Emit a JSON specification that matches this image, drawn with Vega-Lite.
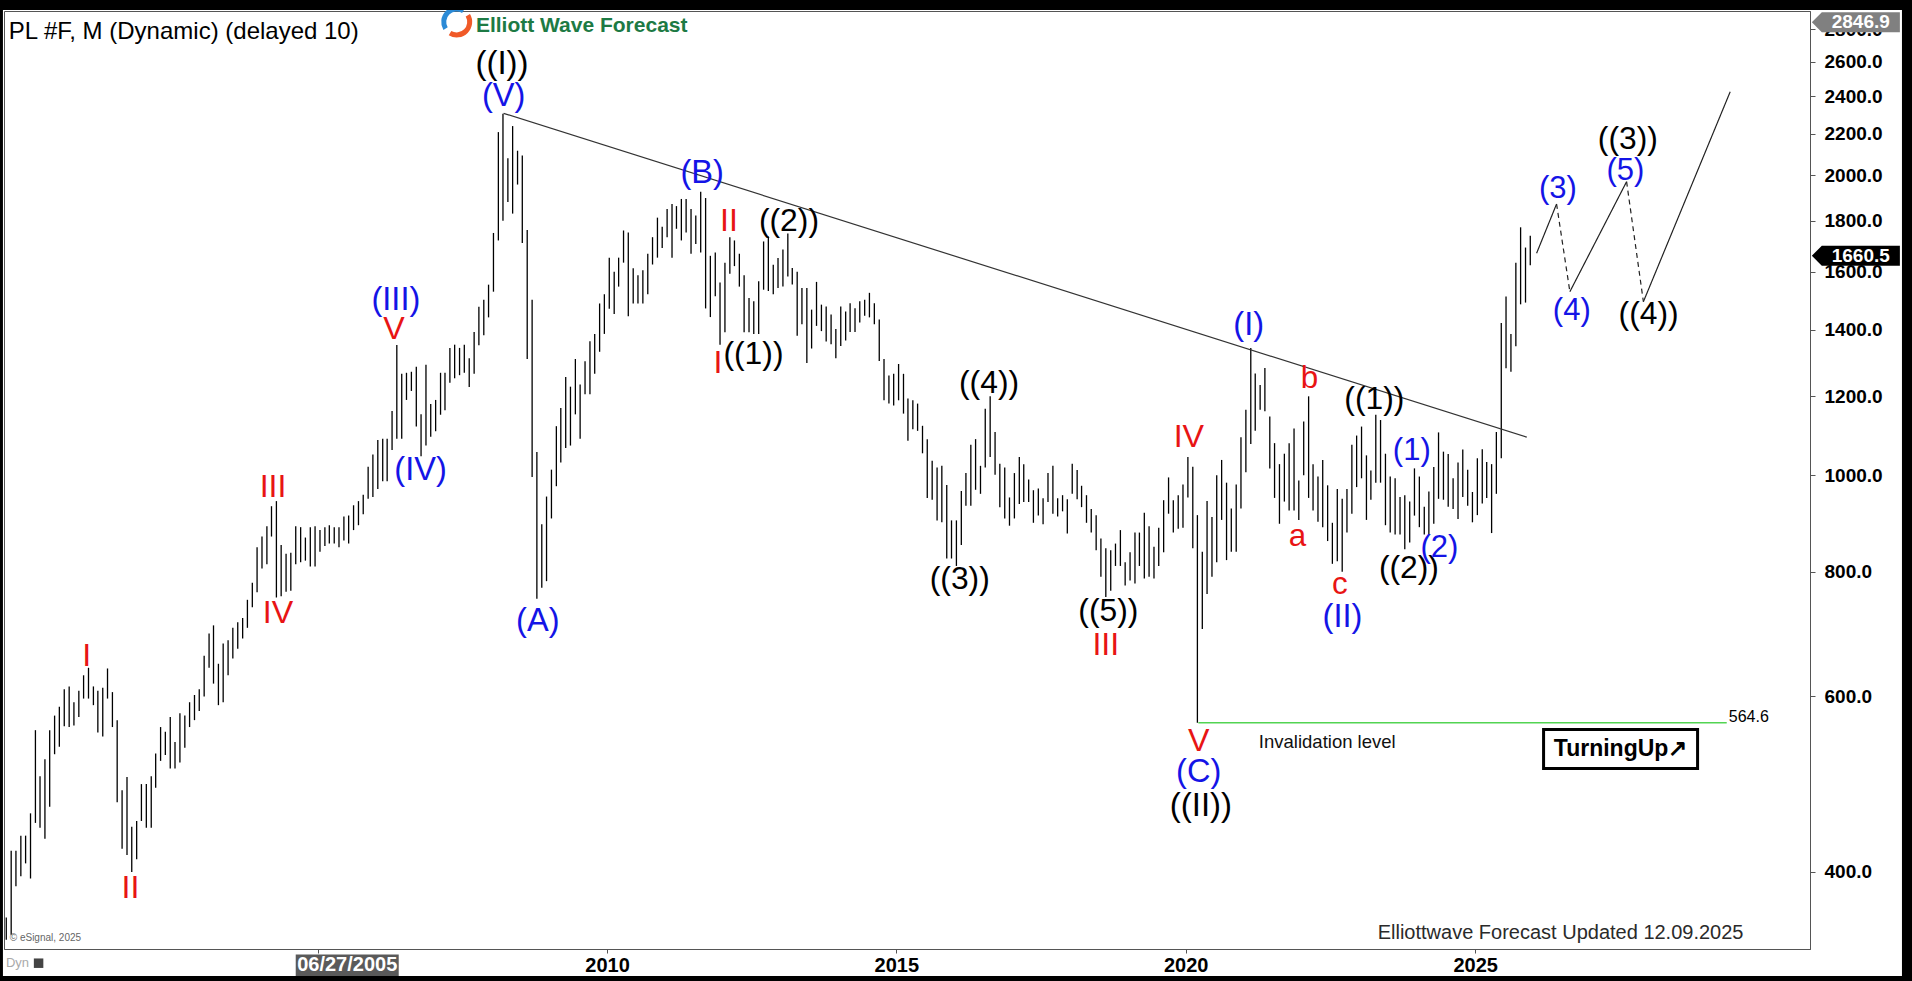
{
  "$schema": "https://vega.github.io/schema/vega-lite/v6.json",
  "width": 1806,
  "height": 938,
  "autosize": {"type": "none"},
  "padding": {"left": 4, "top": 11, "right": 102, "bottom": 32},
  "background": "white",
  "config": {"view": {"stroke": "#555555", "strokeWidth": 1}},
  "resolve": {"axis": {"x": "independent", "y": "independent"}},
  "datasets": {
    "bars": [
      {"d":"1999-08-15","h":360,"l":342},{"d":"1999-09-15","h":420,"l":346},{"d":"1999-10-15","h":420,"l":387},{"d":"1999-11-15","h":435,"l":396},{"d":"1999-12-15","h":435,"l":408},
      {"d":"2000-01-15","h":458,"l":394},{"d":"2000-02-15","h":555,"l":448},{"d":"2000-03-15","h":499,"l":443},{"d":"2000-04-15","h":519,"l":432},{"d":"2000-05-15","h":555,"l":465},{"d":"2000-06-15","h":574,"l":525},{"d":"2000-07-15","h":586,"l":534},{"d":"2000-08-15","h":610,"l":560},{"d":"2000-09-15","h":614,"l":559},{"d":"2000-10-15","h":592,"l":561},{"d":"2000-11-15","h":608,"l":572},{"d":"2000-12-15","h":630,"l":597},
      {"d":"2001-01-15","h":641,"l":597},{"d":"2001-02-15","h":614,"l":588},{"d":"2001-03-15","h":608,"l":552},{"d":"2001-04-15","h":612,"l":547},{"d":"2001-05-15","h":640,"l":597},{"d":"2001-06-15","h":606,"l":559},{"d":"2001-07-15","h":568,"l":470},{"d":"2001-08-15","h":483,"l":422},{"d":"2001-09-15","h":498,"l":416},{"d":"2001-10-15","h":444,"l":400},{"d":"2001-11-15","h":450,"l":412},{"d":"2001-12-15","h":490,"l":450},
      {"d":"2002-01-15","h":490,"l":443},{"d":"2002-02-15","h":499,"l":443},{"d":"2002-03-15","h":526,"l":486},{"d":"2002-04-15","h":559,"l":517},{"d":"2002-05-15","h":553,"l":524},{"d":"2002-06-15","h":572,"l":508},{"d":"2002-07-15","h":540,"l":508},{"d":"2002-08-15","h":577,"l":515},{"d":"2002-09-15","h":574,"l":533},{"d":"2002-10-15","h":592,"l":559},{"d":"2002-11-15","h":602,"l":568},{"d":"2002-12-15","h":610,"l":580},
      {"d":"2003-01-15","h":659,"l":600},{"d":"2003-02-15","h":694,"l":641},{"d":"2003-03-15","h":707,"l":618},{"d":"2003-04-15","h":647,"l":588},{"d":"2003-05-15","h":678,"l":592},{"d":"2003-06-15","h":683,"l":630},{"d":"2003-07-15","h":703,"l":655},{"d":"2003-08-15","h":712,"l":670},{"d":"2003-09-15","h":719,"l":686},{"d":"2003-10-15","h":750,"l":703},{"d":"2003-11-15","h":780,"l":737},{"d":"2003-12-15","h":847,"l":763},
      {"d":"2004-01-15","h":868,"l":806},{"d":"2004-02-15","h":889,"l":814},{"d":"2004-03-15","h":931,"l":868},{"d":"2004-04-15","h":942,"l":754},{"d":"2004-05-15","h":851,"l":756},{"d":"2004-06-15","h":834,"l":764},{"d":"2004-07-15","h":836,"l":766},{"d":"2004-08-15","h":889,"l":814},{"d":"2004-09-15","h":887,"l":818},{"d":"2004-10-15","h":866,"l":821},{"d":"2004-11-15","h":887,"l":810},{"d":"2004-12-15","h":889,"l":810},
      {"d":"2005-01-15","h":881,"l":838},{"d":"2005-02-15","h":887,"l":849},{"d":"2005-03-15","h":891,"l":854},{"d":"2005-04-15","h":887,"l":854},{"d":"2005-05-15","h":887,"l":847},{"d":"2005-06-15","h":909,"l":860},{"d":"2005-07-15","h":911,"l":854},{"d":"2005-08-15","h":933,"l":881},{"d":"2005-09-15","h":942,"l":891},{"d":"2005-10-15","h":956,"l":914},{"d":"2005-11-15","h":1020,"l":947},{"d":"2005-12-15","h":1049,"l":951},
      {"d":"2006-01-15","h":1085,"l":969},{"d":"2006-02-15","h":1088,"l":986},{"d":"2006-03-15","h":1088,"l":986},{"d":"2006-04-15","h":1160,"l":1060},{"d":"2006-05-15","h":1351,"l":1088},{"d":"2006-06-15","h":1264,"l":1088},{"d":"2006-07-15","h":1267,"l":1190},{"d":"2006-08-15","h":1270,"l":1215},{"d":"2006-09-15","h":1285,"l":1119},{"d":"2006-10-15","h":1151,"l":1045},{"d":"2006-11-15","h":1291,"l":1071},{"d":"2006-12-15","h":1179,"l":1093},
      {"d":"2007-01-15","h":1190,"l":1107},{"d":"2007-02-15","h":1267,"l":1150},{"d":"2007-03-15","h":1267,"l":1162},{"d":"2007-04-15","h":1342,"l":1238},{"d":"2007-05-15","h":1352,"l":1251},{"d":"2007-06-15","h":1342,"l":1260},{"d":"2007-07-15","h":1352,"l":1267},{"d":"2007-08-15","h":1310,"l":1226},{"d":"2007-09-15","h":1392,"l":1264},{"d":"2007-10-15","h":1476,"l":1350},{"d":"2007-11-15","h":1500,"l":1382},{"d":"2007-12-15","h":1553,"l":1440},
      {"d":"2008-01-15","h":1750,"l":1528},{"d":"2008-02-15","h":2209,"l":1720},{"d":"2008-03-15","h":2305,"l":1800},{"d":"2008-04-15","h":2080,"l":1880},{"d":"2008-05-15","h":2240,"l":1830},{"d":"2008-06-15","h":2116,"l":1957},{"d":"2008-07-15","h":2093,"l":1710},{"d":"2008-08-15","h":1762,"l":1308},{"d":"2008-09-15","h":1500,"l":996},{"d":"2008-10-15","h":1055,"l":752},{"d":"2008-11-15","h":893,"l":771},{"d":"2008-12-15","h":952,"l":783},
      {"d":"2009-01-15","h":1013,"l":905},{"d":"2009-02-15","h":1120,"l":975},{"d":"2009-03-15","h":1168,"l":1030},{"d":"2009-04-15","h":1255,"l":1065},{"d":"2009-05-15","h":1227,"l":1071},{"d":"2009-06-15","h":1308,"l":1151},{"d":"2009-07-15","h":1233,"l":1088},{"d":"2009-08-15","h":1301,"l":1206},{"d":"2009-09-15","h":1363,"l":1206},{"d":"2009-10-15","h":1386,"l":1264},{"d":"2009-11-15","h":1487,"l":1330},{"d":"2009-12-15","h":1519,"l":1386},
      {"d":"2010-01-15","h":1653,"l":1469},{"d":"2010-02-15","h":1600,"l":1451},{"d":"2010-03-15","h":1653,"l":1546},{"d":"2010-04-15","h":1760,"l":1634},{"d":"2010-05-15","h":1752,"l":1444},{"d":"2010-06-15","h":1613,"l":1487},{"d":"2010-07-15","h":1587,"l":1487},{"d":"2010-08-15","h":1606,"l":1487},{"d":"2010-09-15","h":1668,"l":1519},{"d":"2010-10-15","h":1733,"l":1627},{"d":"2010-11-15","h":1813,"l":1653},{"d":"2010-12-15","h":1775,"l":1690},
      {"d":"2011-01-15","h":1850,"l":1733},{"d":"2011-02-15","h":1871,"l":1653},{"d":"2011-03-15","h":1862,"l":1767},{"d":"2011-04-15","h":1893,"l":1720},{"d":"2011-05-15","h":1893,"l":1752},{"d":"2011-06-15","h":1850,"l":1668},{"d":"2011-07-15","h":1822,"l":1706},{"d":"2011-08-15","h":1925,"l":1673},{"d":"2011-09-15","h":1897,"l":1470},{"d":"2011-10-15","h":1660,"l":1441},{"d":"2011-11-15","h":1673,"l":1512},{"d":"2011-12-15","h":1561,"l":1352},
      {"d":"2012-01-15","h":1634,"l":1391},{"d":"2012-02-15","h":1733,"l":1593},{"d":"2012-03-15","h":1720,"l":1621},{"d":"2012-04-15","h":1668,"l":1546},{"d":"2012-05-15","h":1587,"l":1391},{"d":"2012-06-15","h":1506,"l":1391},{"d":"2012-07-15","h":1495,"l":1386},{"d":"2012-08-15","h":1565,"l":1386},{"d":"2012-09-15","h":1716,"l":1535},{"d":"2012-10-15","h":1736,"l":1530},{"d":"2012-11-15","h":1626,"l":1519},{"d":"2012-12-15","h":1652,"l":1541},
      {"d":"2013-01-15","h":1684,"l":1546},{"d":"2013-02-15","h":1748,"l":1583},{"d":"2013-03-15","h":1614,"l":1554},{"d":"2013-04-15","h":1600,"l":1380},{"d":"2013-05-15","h":1541,"l":1417},{"d":"2013-06-15","h":1541,"l":1296},{"d":"2013-07-15","h":1466,"l":1340},{"d":"2013-08-15","h":1563,"l":1412},{"d":"2013-09-15","h":1483,"l":1395},{"d":"2013-10-15","h":1477,"l":1362},{"d":"2013-11-15","h":1450,"l":1353},{"d":"2013-12-15","h":1402,"l":1310},
      {"d":"2014-01-15","h":1477,"l":1348},{"d":"2014-02-15","h":1460,"l":1365},{"d":"2014-03-15","h":1488,"l":1392},{"d":"2014-04-15","h":1471,"l":1392},{"d":"2014-05-15","h":1495,"l":1423},{"d":"2014-06-15","h":1500,"l":1445},{"d":"2014-07-15","h":1524,"l":1440},{"d":"2014-08-15","h":1488,"l":1417},{"d":"2014-09-15","h":1433,"l":1302},{"d":"2014-10-15","h":1308,"l":1189},{"d":"2014-11-15","h":1259,"l":1180},{"d":"2014-12-15","h":1264,"l":1175},
      {"d":"2015-01-15","h":1293,"l":1189},{"d":"2015-02-15","h":1264,"l":1153},{"d":"2015-03-15","h":1194,"l":1083},{"d":"2015-04-15","h":1189,"l":1112},{"d":"2015-05-15","h":1180,"l":1108},{"d":"2015-06-15","h":1121,"l":1052},{"d":"2015-07-15","h":1087,"l":949},{"d":"2015-08-15","h":1034,"l":945},{"d":"2015-09-15","h":1018,"l":901},{"d":"2015-10-15","h":1022,"l":897},{"d":"2015-11-15","h":978,"l":825},{"d":"2015-12-15","h":901,"l":825},
      {"d":"2016-01-15","h":901,"l":811},{"d":"2016-02-15","h":964,"l":851},{"d":"2016-03-15","h":1005,"l":932},{"d":"2016-04-15","h":1073,"l":932},{"d":"2016-05-15","h":1087,"l":967},{"d":"2016-06-15","h":1022,"l":958},{"d":"2016-07-15","h":1166,"l":1018},{"d":"2016-08-15","h":1200,"l":1043},{"d":"2016-09-15","h":1105,"l":1001},{"d":"2016-10-15","h":1027,"l":929},{"d":"2016-11-15","h":1018,"l":905},{"d":"2016-12-15","h":950,"l":890},
      {"d":"2017-01-15","h":1005,"l":905},{"d":"2017-02-15","h":1043,"l":936},{"d":"2017-03-15","h":1026,"l":940},{"d":"2017-04-15","h":990,"l":940},{"d":"2017-05-15","h":966,"l":896},{"d":"2017-06-15","h":970,"l":911},{"d":"2017-07-15","h":948,"l":893},{"d":"2017-08-15","h":1005,"l":940},{"d":"2017-09-15","h":1022,"l":915},{"d":"2017-10-15","h":948,"l":909},{"d":"2017-11-15","h":955,"l":920},{"d":"2017-12-15","h":946,"l":874},
      {"d":"2018-01-15","h":1027,"l":958},{"d":"2018-02-15","h":1012,"l":946},{"d":"2018-03-15","h":976,"l":929},{"d":"2018-04-15","h":955,"l":896},{"d":"2018-05-15","h":925,"l":876},{"d":"2018-06-15","h":912,"l":841},{"d":"2018-07-15","h":864,"l":791},{"d":"2018-08-15","h":845,"l":755},{"d":"2018-09-15","h":841,"l":766},{"d":"2018-10-15","h":854,"l":811},{"d":"2018-11-15","h":881,"l":811},{"d":"2018-12-15","h":818,"l":775},
      {"d":"2019-01-15","h":837,"l":784},{"d":"2019-02-15","h":876,"l":779},{"d":"2019-03-15","h":876,"l":811},{"d":"2019-04-15","h":917,"l":788},{"d":"2019-05-15","h":889,"l":791},{"d":"2019-06-15","h":848,"l":788},{"d":"2019-07-15","h":886,"l":811},{"d":"2019-08-15","h":944,"l":837},{"d":"2019-09-15","h":995,"l":915},{"d":"2019-10-15","h":944,"l":876},{"d":"2019-11-15","h":955,"l":884},{"d":"2019-12-15","h":979,"l":886},
      {"d":"2020-01-15","h":1043,"l":950},{"d":"2020-02-15","h":1020,"l":845},{"d":"2020-03-15","h":912,"l":564.6},{"d":"2020-04-15","h":838,"l":701},{"d":"2020-05-15","h":942,"l":760},{"d":"2020-06-15","h":908,"l":791},{"d":"2020-07-15","h":1000,"l":818},{"d":"2020-08-15","h":1036,"l":902},{"d":"2020-09-15","h":983,"l":822},{"d":"2020-10-15","h":926,"l":838},{"d":"2020-11-15","h":979,"l":838},{"d":"2020-12-15","h":1092,"l":926},
      {"d":"2021-01-15","h":1163,"l":1007},{"d":"2021-02-15","h":1342,"l":1075},{"d":"2021-03-15","h":1265,"l":1108},{"d":"2021-04-15","h":1232,"l":1163},{"d":"2021-05-15","h":1281,"l":1159},{"d":"2021-06-15","h":1145,"l":1016},{"d":"2021-07-15","h":1077,"l":949},{"d":"2021-08-15","h":1026,"l":894},{"d":"2021-09-15","h":1051,"l":941},{"d":"2021-10-15","h":1077,"l":922},{"d":"2021-11-15","h":1114,"l":922},{"d":"2021-12-15","h":988,"l":902},
      {"d":"2022-01-15","h":1132,"l":1000},{"d":"2022-02-15","h":1200,"l":949},{"d":"2022-03-15","h":1026,"l":922},{"d":"2022-04-15","h":997,"l":898},{"d":"2022-05-15","h":1036,"l":887},{"d":"2022-06-15","h":977,"l":859},{"d":"2022-07-15","h":896,"l":815},{"d":"2022-08-15","h":969,"l":820},{"d":"2022-09-15","h":947,"l":800},{"d":"2022-10-15","h":969,"l":876},{"d":"2022-11-15","h":1073,"l":915},{"d":"2022-12-15","h":1096,"l":973},
      {"d":"2023-01-15","h":1119,"l":993},{"d":"2023-02-15","h":1047,"l":902},{"d":"2023-03-15","h":1011,"l":945},{"d":"2023-04-15","h":1150,"l":983},{"d":"2023-05-15","h":1136,"l":983},{"d":"2023-06-15","h":1051,"l":891},{"d":"2023-07-15","h":997,"l":876},{"d":"2023-08-15","h":993,"l":872},{"d":"2023-09-15","h":951,"l":872},{"d":"2023-10-15","h":955,"l":843},{"d":"2023-11-15","h":941,"l":856},{"d":"2023-12-15","h":1016,"l":911},
      {"d":"2024-01-15","h":997,"l":887},{"d":"2024-02-15","h":930,"l":872},{"d":"2024-03-15","h":963,"l":872},{"d":"2024-04-15","h":1019,"l":894},{"d":"2024-05-15","h":1104,"l":947},{"d":"2024-06-15","h":1056,"l":945},{"d":"2024-07-15","h":1050,"l":930},{"d":"2024-08-15","h":993,"l":925},{"d":"2024-09-15","h":1030,"l":904},{"d":"2024-10-15","h":1061,"l":951},{"d":"2024-11-15","h":1013,"l":932},{"d":"2024-12-15","h":962,"l":897},
      {"d":"2025-01-15","h":1040,"l":912},{"d":"2025-02-15","h":1062,"l":937},{"d":"2025-03-15","h":1031,"l":949},{"d":"2025-04-15","h":1026,"l":875},{"d":"2025-05-15","h":1105,"l":958},{"d":"2025-06-15","h":1421,"l":1040},{"d":"2025-07-15","h":1511,"l":1280},{"d":"2025-08-15","h":1386,"l":1270},{"d":"2025-09-15","h":1634,"l":1347},{"d":"2025-10-15","h":1773,"l":1484},{"d":"2025-11-15","h":1692,"l":1490},{"d":"2025-12-15","h":1739,"l":1624}
    ],
    "labels": [
      {"d":"2008-03-09","v":2588,"t":"((I))","deg":"cycle"},
      {"d":"2008-03-19","v":2399,"t":"(V)","deg":"primary"},
      {"d":"2006-05-09","v":1499,"t":"(III)","deg":"primary"},
      {"d":"2006-04-27","v":1402,"t":"V","deg":"intermediate"},
      {"d":"2006-10-12","v":1013,"t":"(IV)","deg":"primary"},
      {"d":"2004-03-25","v":974,"t":"III","deg":"intermediate"},
      {"d":"2004-04-25","v":727.5,"t":"IV","deg":"intermediate"},
      {"d":"2001-01-03","v":658.6,"t":"I","deg":"intermediate"},
      {"d":"2001-10-07","v":385.8,"t":"II","deg":"intermediate"},
      {"d":"2008-10-21","v":714.8,"t":"(A)","deg":"primary"},
      {"d":"2011-08-24","v":2009.6,"t":"(B)","deg":"primary"},
      {"d":"2012-02-09","v":1800,"t":"II","deg":"intermediate"},
      {"d":"2011-12-02","v":1295,"t":"I","deg":"intermediate"},
      {"d":"2012-07-13","v":1324,"t":"((1))","deg":"minor"},
      {"d":"2013-02-22","v":1800,"t":"((2))","deg":"minor"},
      {"d":"2016-08-08","v":1237.6,"t":"((4))","deg":"minor"},
      {"d":"2016-02-05","v":786.6,"t":"((3))","deg":"minor"},
      {"d":"2018-08-31","v":730.8,"t":"((5))","deg":"minor"},
      {"d":"2018-08-15","v":675.6,"t":"III","deg":"intermediate"},
      {"d":"2020-01-21","v":1093.6,"t":"IV","deg":"intermediate"},
      {"d":"2020-03-23","v":540.8,"t":"V","deg":"intermediate"},
      {"d":"2020-03-23","v":503.8,"t":"(C)","deg":"primary"},
      {"d":"2020-04-06","v":465.9,"t":"((II))","deg":"cycle"},
      {"d":"2021-02-02","v":1416,"t":"(I)","deg":"primary"},
      {"d":"2022-02-21","v":1248.8,"t":"b","deg":"minute"},
      {"d":"2021-12-07","v":868,"t":"a","deg":"minute"},
      {"d":"2022-08-31","v":776,"t":"c","deg":"minute"},
      {"d":"2022-09-17","v":721,"t":"(II)","deg":"primary"},
      {"d":"2023-04-06","v":1193.6,"t":"((1))","deg":"minor"},
      {"d":"2023-11-28","v":1057,"t":"(1)","deg":"minuette"},
      {"d":"2023-11-10","v":808,"t":"((2))","deg":"minor"},
      {"d":"2024-05-20","v":846,"t":"(2)","deg":"minuette"},
      {"d":"2026-06-07","v":1937,"t":"(3)","deg":"minuette"},
      {"d":"2026-09-03","v":1461,"t":"(4)","deg":"minuette"},
      {"d":"2027-08-23","v":2175,"t":"((3))","deg":"minor"},
      {"d":"2027-08-07","v":2020,"t":"(5)","deg":"minuette"},
      {"d":"2028-01-01","v":1450,"t":"((4))","deg":"minor"}
    ],
    "proj": [
      {"seg":"a","style":"solid","d":"2026-01-24","v":1670},{"seg":"a","style":"solid","d":"2026-05-30","v":1871},
      {"seg":"b","style":"dashed","d":"2026-05-30","v":1871},{"seg":"b","style":"dashed","d":"2026-08-22","v":1528},
      {"seg":"c","style":"solid","d":"2026-08-22","v":1528},{"seg":"c","style":"solid","d":"2027-08-15","v":1970},
      {"seg":"d","style":"dashed","d":"2027-08-15","v":1970},{"seg":"d","style":"dashed","d":"2027-11-29","v":1493},
      {"seg":"e","style":"solid","d":"2027-11-29","v":1493},{"seg":"e","style":"solid","d":"2029-05-30","v":2425}
    ],
    "trend": [{"d":"2008-03-19","v":2307},{"d":"2025-11-23","v":1092}],
    "inval": [{"d":"2020-03-21","v":564.6},{"d":"2029-05-08","v":564.6}]
  },
  "layer": [
    {
      "data": {"name": "bars"},
      "mark": {"type": "rule", "color": "#000000", "strokeWidth": 1.3},
      "encoding": {
        "x": {"field": "d", "type": "temporal",
          "scale": {"type": "utc", "nice": false, "domain": [{"year":1999,"month":7,"date":31,"hours":16,"utc":true},{"year":2030,"month":10,"date":15,"hours":14,"utc":true}]},
          "axis": {"title": null, "orient": "bottom", "grid": false,
            "values": [{"year":2005,"month":1,"date":1,"utc":true},{"year":2010,"month":1,"date":1,"utc":true},{"year":2015,"month":1,"date":1,"utc":true},{"year":2020,"month":1,"date":1,"utc":true},{"year":2025,"month":1,"date":1,"utc":true}],
            "labelExpr": "utcFormat(datum.value, '%Y') == '2005' ? '' : utcFormat(datum.value, '%Y')",
            "labelFont": "Liberation Sans", "labelFontWeight": "bold", "labelFontSize": 20, "labelColor": "#000000",
            "labelPadding": 2, "tickSize": 4, "tickColor": "#555555", "domainColor": "#555555", "labelFlush": false, "labelOverlap": false}},
        "y": {"field": "l", "type": "quantitative",
          "scale": {"type": "log", "domain": [334.8, 2922], "nice": false, "zero": false},
          "axis": {"title": null, "orient": "right", "grid": false,
            "values": [400, 600, 800, 1000, 1200, 1400, 1600, 1800, 2000, 2200, 2400, 2600, 2800],
            "format": ".1f", "labelFont": "Liberation Sans", "labelFontWeight": "bold", "labelFontSize": 19, "labelColor": "#000000",
            "labelPadding": 9, "tickSize": 5, "tickColor": "#555555", "domainColor": "#555555", "labelBaseline": "middle", "labelOverlap": false}},
        "y2": {"field": "h"}
      }
    },
    {
      "data": {"name": "trend"},
      "mark": {"type": "line", "color": "#333333", "strokeWidth": 1.2},
      "encoding": {
        "x": {"field": "d", "type": "temporal", "axis": null},
        "y": {"field": "v", "type": "quantitative", "axis": null}
      }
    },
    {
      "data": {"name": "inval"},
      "mark": {"type": "line", "color": "#52d452", "strokeWidth": 1.6},
      "encoding": {
        "x": {"field": "d", "type": "temporal", "axis": null},
        "y": {"field": "v", "type": "quantitative", "axis": null}
      }
    },
    {
      "data": {"name": "proj"},
      "mark": {"type": "line", "color": "#222222", "strokeWidth": 1.2},
      "encoding": {
        "x": {"field": "d", "type": "temporal", "axis": null},
        "y": {"field": "v", "type": "quantitative", "axis": null},
        "detail": {"field": "seg"},
        "strokeDash": {"field": "style", "type": "nominal", "scale": {"domain": ["solid", "dashed"], "range": [[1, 0], [5, 4]]}, "legend": null}
      }
    },
    {
      "data": {"name": "labels"},
      "mark": {"type": "text", "font": "Liberation Sans", "align": "center", "baseline": "middle"},
      "encoding": {
        "x": {"field": "d", "type": "temporal", "axis": null},
        "y": {"field": "v", "type": "quantitative", "axis": null},
        "text": {"field": "t"},
        "color": {"field": "deg", "type": "nominal", "legend": null,
          "scale": {"domain": ["cycle", "primary", "intermediate", "minor", "minute", "minuette"], "range": ["#000000", "#1414e6", "#e81414", "#000000", "#e81414", "#1414e6"]}},
        "size": {"field": "deg", "type": "ordinal", "legend": null,
          "scale": {"domain": ["cycle", "primary", "intermediate", "minor", "minute", "minuette"], "range": [33, 31, 31, 21.5, 30, 20.5]}}
      }
    },
    {
      "data": {"values": [{}]},
      "mark": {"type": "text", "font": "Liberation Sans", "fontSize": 18.5, "align": "left", "baseline": "middle", "color": "#111111", "text": "Invalidation level"},
      "encoding": {
        "x": {"datum": {"year":2021,"month":4,"date":7,"utc":true}, "type": "temporal", "axis": null},
        "y": {"datum": 540, "type": "quantitative", "axis": null}
      }
    },
    {
      "data": {"values": [{}]},
      "mark": {"type": "text", "font": "Liberation Sans", "fontSize": 16, "align": "left", "baseline": "middle", "color": "#000000", "text": "564.6"},
      "encoding": {
        "x": {"datum": {"year":2029,"month":5,"date":21,"utc":true}, "type": "temporal", "axis": null},
        "y": {"datum": 572, "type": "quantitative", "axis": null}
      }
    },
    {
      "data": {"values": [{}]},
      "mark": {"type": "point", "shape": "M-1,-0.2532L1,-0.2532L1,0.2532L-1,0.2532Z", "size": 23716, "filled": true, "fill": "#ffffff", "stroke": "#000000", "strokeWidth": 3, "opacity": 1},
      "encoding": {
        "x": {"datum": {"year":2027,"month":7,"date":8,"utc":true}, "type": "temporal", "axis": null},
        "y": {"datum": 531.4, "type": "quantitative", "axis": null}
      }
    },
    {
      "data": {"values": [{}]},
      "mark": {"type": "text", "font": "Liberation Sans", "fontSize": 23, "fontWeight": "bold", "align": "center", "baseline": "middle", "color": "#000000", "text": "TurningUp↗"},
      "encoding": {
        "x": {"datum": {"year":2027,"month":7,"date":8,"utc":true}, "type": "temporal", "axis": null},
        "y": {"datum": 531.4, "type": "quantitative", "axis": null}
      }
    },
    {
      "data": {"values": [{}]},
      "mark": {"type": "text", "font": "Liberation Sans", "fontSize": 24, "align": "left", "baseline": "alphabetic", "color": "#000000", "text": "PL #F, M (Dynamic) (delayed 10)"},
      "encoding": {
        "x": {"datum": {"year":1999,"month":8,"date":31,"utc":true}, "type": "temporal", "axis": null},
        "y": {"datum": 2742, "type": "quantitative", "axis": null}
      }
    },
    {
      "data": {"values": [{}]},
      "mark": {"type": "text", "font": "Liberation Sans", "fontSize": 21, "fontWeight": "bold", "align": "left", "baseline": "alphabetic", "color": "#1d7a44", "text": "Elliott Wave Forecast"},
      "encoding": {
        "x": {"datum": {"year":2007,"month":9,"date":26,"utc":true}, "type": "temporal", "axis": null},
        "y": {"datum": 2783, "type": "quantitative", "axis": null}
      }
    },
    {
      "data": {"values": [{}]},
      "mark": {"type": "point", "shape": "M -0.75 0.45 A 0.875 0.875 0 0 1 0.45 -0.75", "size": 883, "filled": false, "stroke": "#2b8ad6", "strokeWidth": 5, "opacity": 1},
      "encoding": {
        "x": {"datum": {"year":2007,"month":5,"date":28,"utc":true}, "type": "temporal", "axis": null},
        "y": {"datum": 2849, "type": "quantitative", "axis": null}
      }
    },
    {
      "data": {"values": [{}]},
      "mark": {"type": "point", "shape": "M 0.75 -0.45 A 0.875 0.875 0 0 1 -0.45 0.75", "size": 883, "filled": false, "stroke": "#f05a28", "strokeWidth": 5, "opacity": 1},
      "encoding": {
        "x": {"datum": {"year":2007,"month":5,"date":28,"utc":true}, "type": "temporal", "axis": null},
        "y": {"datum": 2849, "type": "quantitative", "axis": null}
      }
    },
    {
      "data": {"values": [{}]},
      "mark": {"type": "text", "font": "Liberation Sans", "fontSize": 10, "align": "left", "baseline": "middle", "color": "#666666", "text": "© eSignal, 2025"},
      "encoding": {
        "x": {"datum": {"year":1999,"month":9,"date":6,"utc":true}, "type": "temporal", "axis": null},
        "y": {"datum": 343.5, "type": "quantitative", "axis": null}
      }
    },
    {
      "data": {"values": [{}]},
      "mark": {"type": "text", "font": "Liberation Sans", "fontSize": 20, "align": "left", "baseline": "middle", "color": "#2a2a2a", "text": "Elliottwave Forecast Updated 12.09.2025"},
      "encoding": {
        "x": {"datum": {"year":2023,"month":4,"date":27,"utc":true}, "type": "temporal", "axis": null},
        "y": {"datum": 347.5, "type": "quantitative", "axis": null}
      }
    },
    {
      "data": {"values": [{}]},
      "mark": {"type": "text", "font": "Liberation Sans", "fontSize": 13, "align": "left", "baseline": "middle", "color": "#aaaaaa", "text": "Dyn"},
      "encoding": {
        "x": {"datum": {"year":1999,"month":8,"date":13,"utc":true}, "type": "temporal", "axis": null},
        "y": {"datum": 324, "type": "quantitative", "axis": null}
      }
    },
    {
      "data": {"values": [{}]},
      "mark": {"type": "point", "shape": "square", "size": 90, "filled": true, "color": "#444444", "opacity": 1},
      "encoding": {
        "x": {"datum": {"year":2000,"month":3,"date":6,"utc":true}, "type": "temporal", "axis": null},
        "y": {"datum": 324, "type": "quantitative", "axis": null}
      }
    },
    {
      "data": {"values": [{}]},
      "mark": {"type": "point", "shape": "M-1,-0.2136L1,-0.2136L1,0.2136L-1,0.2136Z", "size": 10609, "filled": true, "color": "#5a5a5a", "opacity": 1},
      "encoding": {
        "x": {"datum": {"year":2005,"month":7,"date":6,"utc":true}, "type": "temporal", "axis": null},
        "y": {"datum": 322.3, "type": "quantitative", "axis": null}
      }
    },
    {
      "data": {"values": [{}]},
      "mark": {"type": "text", "font": "Liberation Sans", "fontSize": 20, "fontWeight": "bold", "align": "center", "baseline": "middle", "color": "#ffffff", "text": "06/27/2005"},
      "encoding": {
        "x": {"datum": {"year":2005,"month":7,"date":6,"utc":true}, "type": "temporal", "axis": null},
        "y": {"datum": 322.3, "type": "quantitative", "axis": null}
      }
    },
    {
      "data": {"values": [{}]},
      "mark": {"type": "point", "shape": "M-1,0L-0.773,-0.227L1,-0.227L1,0.227L-0.773,0.227Z", "size": 7744, "filled": true, "color": "#808080", "opacity": 1},
      "encoding": {
        "x": {"datum": {"year":2031,"month":8,"date":1,"utc":true}, "type": "temporal", "axis": null},
        "y": {"datum": 2846.9, "type": "quantitative", "axis": null}
      }
    },
    {
      "data": {"values": [{}]},
      "mark": {"type": "text", "font": "Liberation Sans", "fontSize": 19, "fontWeight": "bold", "align": "center", "baseline": "middle", "color": "#ffffff", "text": "2846.9"},
      "encoding": {
        "x": {"datum": {"year":2031,"month":9,"date":1,"utc":true}, "type": "temporal", "axis": null},
        "y": {"datum": 2846.9, "type": "quantitative", "axis": null}
      }
    },
    {
      "data": {"values": [{}]},
      "mark": {"type": "point", "shape": "M-1,0L-0.773,-0.227L1,-0.227L1,0.227L-0.773,0.227Z", "size": 7744, "filled": true, "color": "#000000", "opacity": 1},
      "encoding": {
        "x": {"datum": {"year":2031,"month":8,"date":1,"utc":true}, "type": "temporal", "axis": null},
        "y": {"datum": 1660.5, "type": "quantitative", "axis": null}
      }
    },
    {
      "data": {"values": [{}]},
      "mark": {"type": "text", "font": "Liberation Sans", "fontSize": 19, "fontWeight": "bold", "align": "center", "baseline": "middle", "color": "#ffffff", "text": "1660.5"},
      "encoding": {
        "x": {"datum": {"year":2031,"month":9,"date":1,"utc":true}, "type": "temporal", "axis": null},
        "y": {"datum": 1660.5, "type": "quantitative", "axis": null}
      }
    },
    {
      "data": {"values": [{}]},
      "mark": {"type": "rect", "color": "#000000", "opacity": 1},
      "encoding": {
        "x": {"datum": {"year":1998,"month":1,"date":1,"utc":true}, "type": "temporal", "axis": null},
        "x2": {"datum": {"year":2034,"month":1,"date":1,"utc":true}},
        "y": {"datum": 2928.7, "type": "quantitative", "axis": null},
        "y2": {"datum": 5000}
      }
    },
    {
      "data": {"values": [{}]},
      "mark": {"type": "rect", "color": "#000000", "opacity": 1},
      "encoding": {
        "x": {"datum": {"year":1998,"month":1,"date":1,"utc":true}, "type": "temporal", "axis": null},
        "x2": {"datum": {"year":2034,"month":1,"date":1,"utc":true}},
        "y": {"datum": 200, "type": "quantitative", "axis": null},
        "y2": {"datum": 314.5}
      }
    },
    {
      "data": {"values": [{}]},
      "mark": {"type": "rect", "color": "#000000", "opacity": 1},
      "encoding": {
        "x": {"datum": {"year":1998,"month":1,"date":1,"utc":true}, "type": "temporal", "axis": null},
        "x2": {"datum": {"year":1999,"month":7,"date":25,"utc":true}},
        "y": {"datum": 200, "type": "quantitative", "axis": null},
        "y2": {"datum": 5000}
      }
    },
    {
      "data": {"values": [{}]},
      "mark": {"type": "rect", "color": "#000000", "opacity": 1},
      "encoding": {
        "x": {"datum": {"year":2032,"month":5,"date":18,"utc":true}, "type": "temporal", "axis": null},
        "x2": {"datum": {"year":2034,"month":1,"date":1,"utc":true}},
        "y": {"datum": 200, "type": "quantitative", "axis": null},
        "y2": {"datum": 5000}
      }
    }
  ]
}
